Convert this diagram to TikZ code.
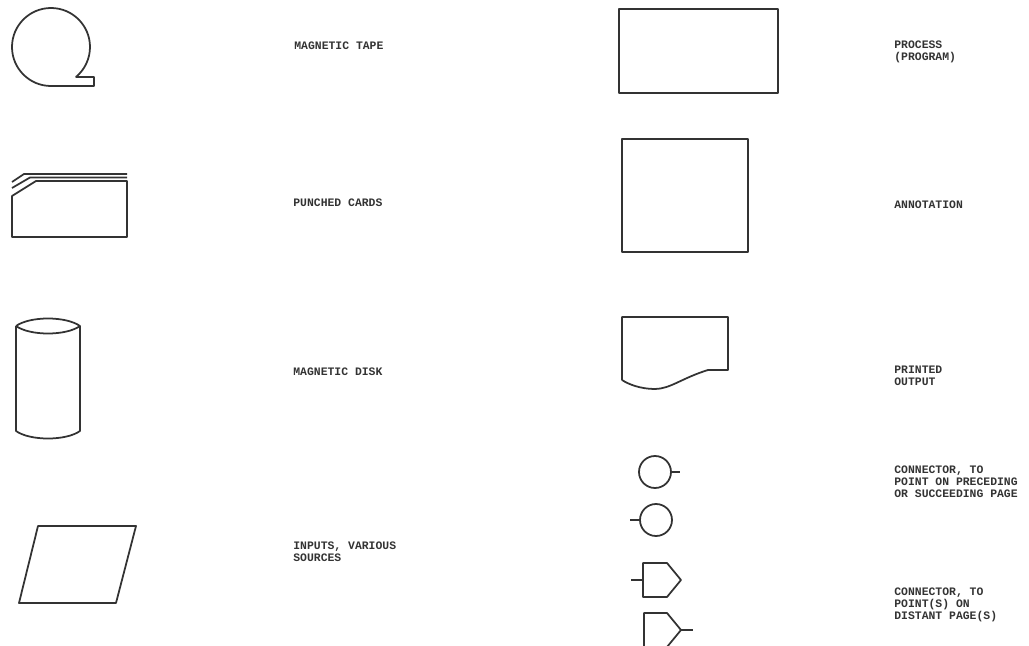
\documentclass[tikz,border=0pt]{standalone}
\usepackage{fontspec}
\setmonofont{Liberation Mono}
\usepackage{tikz}

\definecolor{ink}{HTML}{333333}

\begin{document}
\begin{tikzpicture}[x=0.02cm, y=0.02cm, line join=round,
    sym/.style={draw=ink, line width=1pt},
    lbl/.style={font=\ttfamily\bfseries\fontsize{6.5}{6.8}\selectfont, text=ink,
                anchor=west, align=left, inner sep=0pt}]

    % page frame, pixel units of the scan (y downwards)
    \useasboundingbox (0,0) rectangle (1029,-646);

    % Left column: media symbols
    % magnetic tape (circle with tail at lower right)
    \draw[sym] (51,-86) arc[start angle=270, end angle=-50, radius=39]
        -- (82,-77) -- (94,-77) -- (94,-86) -- cycle;

    % punched cards (clipped corner with stacked edges)
    \draw[sym] (12,-237) -- (127,-237) -- (127,-181) -- (36,-181) -- (12,-196) -- cycle;
    \draw[sym] (12,-188) -- (30,-177.5) -- (127,-177.5);
    \draw[sym] (12,-182) -- (24,-174) -- (127,-174);

    % magnetic disk
    \draw[sym] (16,-326) .. controls (30,-316) and (66,-316) .. (80,-326)
        .. controls (66,-336) and (30,-336) .. (16,-326);
    \draw[sym] (16,-326) -- (16,-431) .. controls (30,-441) and (66,-441) .. (80,-431)
        -- (80,-326);

    % inputs (parallelogram)
    \draw[sym] (38,-526) -- (136,-526) -- (116,-603) -- (19,-603) -- cycle;

    % Right column
    % process box
    \draw[sym] (619,-9) rectangle (778,-93);

    % annotation box
    \draw[sym] (622,-139) rectangle (748,-252);

    % printed output (document)
    \draw[sym] (622,-380) -- (622,-317) -- (728,-317) -- (728,-370) -- (708,-370)
        .. controls (682,-378) and (670,-389) .. (655,-389)
        .. controls (640,-389) and (628,-384) .. (622,-380);

    % on-page connectors (circles with stubs)
    \draw[sym] (655,-472) circle[radius=16];
    \draw[sym] (671,-472) -- (680,-472);
    \draw[sym] (656,-520) circle[radius=16];
    \draw[sym] (640,-520) -- (630,-520);

    % off-page connectors (pentagons with stubs)
    \draw[sym] (643,-563) -- (667,-563) -- (681,-580) -- (667,-597) -- (643,-597) -- cycle;
    \draw[sym] (643,-580) -- (631,-580);
    \draw[sym] (644,-613) -- (667,-613) -- (681,-630) -- (667,-647) -- (644,-647) -- cycle;
    \draw[sym] (681,-630) -- (693,-630);

    % Labels
    \node[lbl] (tape)  at (294,-46)  {MAGNETIC TAPE};
    \node[lbl] (cards) at (293,-203) {PUNCHED CARDS};
    \node[lbl] (disk)  at (293,-372) {MAGNETIC DISK};
    \node[lbl] (input) at (293,-552) {INPUTS, VARIOUS\\SOURCES};

    \node[lbl] (proc)  at (894,-52)  {PROCESS\\(PROGRAM)};
    \node[lbl] (annot) at (894,-205) {ANNOTATION};
    \node[lbl] (print) at (894,-376) {PRINTED\\OUTPUT};
    \node[lbl] (conn)  at (894,-482) {CONNECTOR, TO\\POINT ON PRECEDING\\OR SUCCEEDING PAGE};
    \node[lbl] (offpg) at (894,-605) {CONNECTOR, TO\\POINT(S) ON\\DISTANT PAGE(S)};

\end{tikzpicture}
\end{document}
